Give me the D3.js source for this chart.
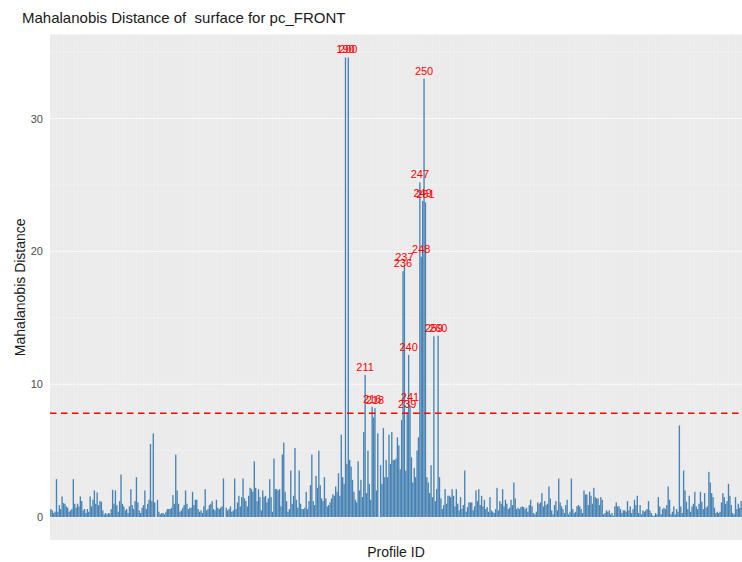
<!DOCTYPE html>
<html>
<head>
<meta charset="utf-8">
<script src="https://cdn.jsdelivr.net/npm/d3@7"></script>
<style>
  html, body { margin: 0; padding: 0; background: #ffffff; }
  svg { display: block; font-family: "Liberation Sans", Arial, Helvetica, sans-serif; }
  .keep-space { white-space: pre; }
</style>
</head>
<body>
<svg id="chart" width="742" height="562"></svg>
<script>
// Mahalanobis distance per profile, in plotting order
const distances = [
  0.6, 0.5, 0.3, 0.4, 2.85, 0.4, 0.9, 0.6, 1.55, 1.05,
  1.0, 0.8, 0.7, 0.4, 0.5, 0.6, 2.85, 1.0, 0.7, 1.0,
  0.8, 1.55, 1.2, 0.5, 0.6, 0.3, 0.6, 0.4, 1.55, 0.8,
  1.3, 2.0, 1.0, 1.85, 0.9, 1.2, 1.15, 0.5, 0.2, 0.3,
  0.2, 0.3, 0.25, 0.6, 2.05, 1.0, 2.0, 0.9, 0.4, 1.2,
  3.2, 1.0, 0.8, 0.5, 0.6, 0.3, 0.8, 2.1, 0.9, 0.6,
  1.2, 3.0, 1.1, 0.5, 0.3, 0.7, 0.9, 2.0, 0.6, 1.0,
  1.3, 5.5, 1.2, 6.3, 1.1, 0.0, 1.3, 0.4, 0.2, 0.3,
  0.3, 0.2, 0.4, 0.6, 0.6, 0.6, 0.7, 1.65, 1.0, 4.7,
  2.0, 1.0, 0.4, 0.5, 0.7, 0.9, 2.0, 1.0, 0.6, 0.7,
  0.7, 1.9, 0.9, 1.3, 1.3, 0.6, 0.4, 0.5, 0.3, 0.8,
  2.1, 0.5, 0.6, 0.9, 1.0, 1.2, 0.6, 0.5, 1.3, 0.7,
  0.6, 0.7, 0.8, 2.9, 0.0, 0.7, 0.5, 0.6, 0.8, 0.4,
  0.5, 2.9, 0.6, 1.1, 1.6, 0.8, 1.5, 2.9, 1.4, 1.2,
  0.8, 1.6, 2.2, 2.1, 1.9, 4.2, 2.2, 1.2, 2.1, 1.5,
  0.5, 2.0, 1.5, 1.6, 1.1, 1.4, 2.85, 1.5, 0.4, 4.4,
  2.1, 2.1, 2.0, 2.1, 0.8, 4.7, 5.6, 1.9, 1.2, 0.4,
  0.6, 3.5, 1.0, 1.6, 5.2, 1.3, 0.7, 3.5, 1.0, 0.6,
  0.6, 0.7, 1.9, 0.6, 1.2, 2.4, 4.7, 1.2, 0.9, 3.1,
  2.2, 5.0, 2.4, 1.4, 1.2, 3.0, 1.4, 0.8, 0.9, 1.1,
  1.4, 1.7, 1.6, 2.3, 1.9, 3.3, 1.6, 6.2, 3.0, 2.5,
  34.6, 4.0, 34.6, 4.3, 3.8, 2.8, 1.9, 1.3, 1.1, 4.2,
  2.0, 2.8, 1.5, 6.4, 10.7, 1.8, 5.0, 2.5, 1.3, 8.3,
  7.5, 8.2, 2.0, 6.3, 0.0, 3.9, 2.5, 6.7, 3.0, 4.3,
  3.0, 6.2, 4.0, 6.4, 4.3, 4.3, 4.4, 6.0, 5.4, 3.6,
  7.3, 18.5, 19.0, 3.5, 7.9, 12.2, 8.4, 4.5, 2.6, 3.7,
  3.0, 5.0, 6.0, 25.2, 19.6, 23.8, 33.0, 23.7, 3.0, 2.6,
  1.8, 3.9, 1.5, 13.6, 1.2, 2.1, 13.65, 3.0, 1.4, 0.6,
  0.9, 2.1, 1.0, 1.6, 1.6, 1.5, 2.1, 1.6, 0.8, 2.1,
  1.0, 0.5, 1.5, 0.6, 0.9, 3.5, 0.4, 0.75, 1.1, 1.1,
  1.1, 0.5, 0.8, 2.0, 1.2, 2.1, 0.9, 1.6, 0.8, 1.3,
  0.6, 0.75, 0.4, 1.5, 0.5, 0.4, 0.3, 0.6, 2.2, 0.5,
  1.2, 1.0, 2.1, 0.8, 1.3, 1.0, 0.6, 0.7, 1.3, 0.9,
  2.6, 1.4, 0.6, 0.7, 0.6, 0.75, 0.8, 0.75, 0.6, 0.7,
  0.4, 0.9, 1.3, 0.8, 0.3, 0.2, 0.4, 1.1, 1.0, 1.1,
  1.8, 0.8, 1.2, 0.9, 1.0, 2.3, 1.4, 0.5, 0.2, 0.9,
  1.2, 0.5, 2.9, 1.1, 0.8, 0.6, 0.3, 0.9, 1.3, 0.2,
  0.4, 2.9, 0.6, 0.3, 0.4, 0.8, 0.9, 0.8, 0.6, 0.3,
  2.0, 1.7, 1.7, 0.9, 1.9, 1.6, 1.0, 2.2, 1.5, 1.4,
  1.4, 0.9, 1.5, 1.3, 0.2, 0.3, 0.5, 0.4, 0.5, 0.2,
  0.3, 0.1, 0.8, 1.1, 0.8, 0.8, 0.6, 0.3, 0.5, 0.5,
  0.4, 1.2, 0.5, 0.8, 0.3, 0.6, 1.3, 0.9, 1.6, 0.3,
  0.9, 0.2, 0.5, 0.4, 0.5, 0.6, 1.2, 0.5, 0.3, 0.1,
  0.1, 0.3, 0.2, 1.5, 0.8, 0.2, 0.6, 0.7, 0.6, 0.9,
  2.3, 1.3, 0.2, 0.4, 0.8, 0.2, 0.6, 0.4, 6.9, 0.8,
  0.3, 3.5, 2.0, 1.15, 0.6, 1.6, 0.4, 0.8, 1.0, 1.9,
  0.8, 0.6, 1.0, 1.9, 1.15, 0.6, 1.8, 0.7, 0.8, 3.4,
  2.6, 1.8, 1.5, 0.7, 0.3, 0.4, 0.3, 0.4, 1.1, 1.8,
  1.5, 1.0, 1.2, 2.5, 1.6, 0.9, 0.3, 0.2, 1.5, 0.6,
  1.0, 0.7, 1.2
];

// Profile IDs of the bars above the cutoff, left to right
const outlierIds = ["190", "200", "211", "216", "218", "236", "237", "239", "240",
                    "241", "247", "248", "249", "250", "251", "259", "260"];

const cutoff = 7.81;                 // chi-square 95% quantile, 3 d.f.
const yTicks = [0, 10, 20, 30];
const yMinorTicks = [5, 15, 25, 35];

const titleText = "Mahalanobis Distance of  surface for pc_FRONT";
const xTitle = "Profile ID";
const yTitle = "Mahalanobis Distance";

// ---- layout ----
const panel = { left: 50, right: 742, top: 34.5, bottom: 540 };
const svg = d3.select("#chart");

const rows = distances.map((d, i) => ({ idx: i, value: d }));
let k = 0;
rows.forEach(r => { if (r.value > cutoff) r.label = outlierIds[k++]; });

const x = d3.scaleBand()
  .domain(rows.map(r => r.idx))
  .range([panel.left, panel.right])
  .paddingInner(0.05)
  .paddingOuter(0.15);

const yMax = d3.max(distances);
const pad = yMax * 0.05;
const y = d3.scaleLinear()
  .domain([-pad, yMax + pad])
  .range([panel.bottom, panel.top]);

// panel background
svg.append("rect")
  .attr("x", panel.left).attr("y", panel.top)
  .attr("width", panel.right - panel.left)
  .attr("height", panel.bottom - panel.top)
  .attr("fill", "#E9E9E9");

// grid
const grid = svg.append("g");
grid.selectAll("line.vx")
  .data(rows)
  .join("line")
  .attr("x1", d => x(d.idx) + x.bandwidth() / 2)
  .attr("x2", d => x(d.idx) + x.bandwidth() / 2)
  .attr("y1", panel.top).attr("y2", panel.bottom)
  .attr("stroke", "#ffffff").attr("stroke-width", 0.4).attr("stroke-opacity", 0.5);

grid.selectAll("line.hminor")
  .data(yMinorTicks.filter(t => y(t) >= panel.top))
  .join("line")
  .attr("x1", panel.left).attr("x2", panel.right)
  .attr("y1", d => y(d)).attr("y2", d => y(d))
  .attr("stroke", "#ffffff").attr("stroke-width", 0.5).attr("stroke-opacity", 0.6);

grid.selectAll("line.hmajor")
  .data(yTicks)
  .join("line")
  .attr("x1", panel.left).attr("x2", panel.right)
  .attr("y1", d => y(d)).attr("y2", d => y(d))
  .attr("stroke", "#ffffff").attr("stroke-width", 1).attr("stroke-opacity", 0.8);

// bars
svg.append("g")
  .selectAll("rect")
  .data(rows)
  .join("rect")
  .attr("x", d => x(d.idx))
  .attr("width", x.bandwidth())
  .attr("y", d => y(Math.max(0, d.value)))
  .attr("height", d => Math.abs(y(0) - y(d.value)))
  .attr("fill", "steelblue");

// cutoff line
svg.append("line")
  .attr("x1", panel.left).attr("x2", panel.right)
  .attr("y1", y(cutoff)).attr("y2", y(cutoff))
  .attr("stroke", "#ff0000")
  .attr("stroke-width", 1.6)
  .attr("stroke-dasharray", "6.5,4.5");

// outlier labels
svg.append("g")
  .selectAll("text")
  .data(rows.filter(r => r.label))
  .join("text")
  .attr("x", d => x(d.idx) + x.bandwidth() / 2)
  .attr("y", d => y(d.value) - 4)
  .attr("text-anchor", "middle")
  .attr("font-size", 11)
  .attr("fill", "#ff0000")
  .text(d => d.label);

// y axis (labels only, no tick marks)
const yAxis = d3.axisLeft(y).tickValues(yTicks).tickSize(0).tickPadding(7);
const gy = svg.append("g")
  .attr("transform", `translate(${panel.left},0)`)
  .call(yAxis);
gy.select(".domain").remove();
gy.selectAll(".tick text")
  .attr("fill", "#4D4D4D")
  .attr("font-size", 11)
  .attr("font-family", "Liberation Sans, Arial, sans-serif");

// titles
svg.append("text")
  .attr("class", "keep-space")
  .attr("x", 22).attr("y", 23)
  .attr("font-size", 15)
  .attr("fill", "#1a1a1a")
  .text(titleText);

svg.append("text")
  .attr("x", (panel.left + panel.right) / 2)
  .attr("y", 557)
  .attr("text-anchor", "middle")
  .attr("font-size", 14)
  .attr("fill", "#1a1a1a")
  .text(xTitle);

svg.append("text")
  .attr("transform", `translate(25,${(panel.top + panel.bottom) / 2}) rotate(-90)`)
  .attr("text-anchor", "middle")
  .attr("font-size", 14)
  .attr("fill", "#1a1a1a")
  .text(yTitle);
</script>
</body>
</html>
